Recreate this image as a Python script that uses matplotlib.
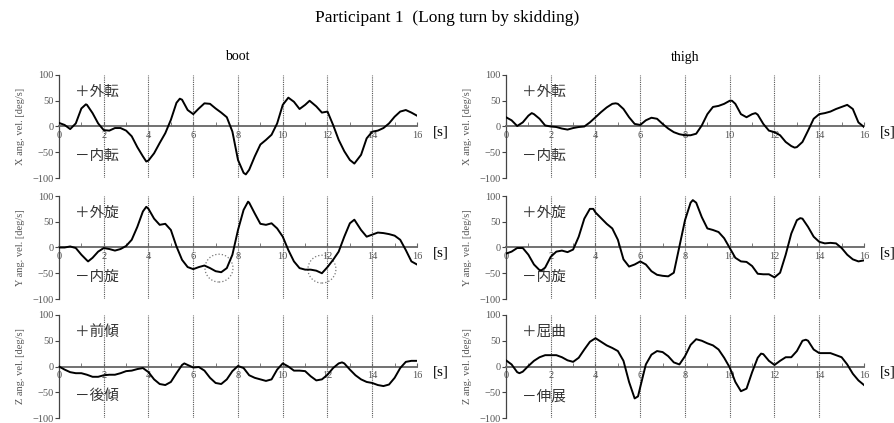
import matplotlib
matplotlib.use("Agg")
import matplotlib.pyplot as plt
from matplotlib.patches import Ellipse

plt.rcParams['font.family'] = ['Liberation Serif', 'Noto Sans CJK JP']

# (time [s], angular velocity [deg/s])
boot_x = [(0,7),(0.25,3),(0.5,-5),(0.75,6),(1.0,35),(1.2,43),(1.25,42),(1.5,26),(1.75,6),
          (2.0,-7),(2.25,-8),(2.5,-3),(2.75,-3),(3.0,-8),(3.25,-19),(3.5,-40),(3.75,-58),
          (3.9,-68),(4.0,-66),(4.25,-52),(4.5,-32),(4.75,-13),(5.0,13),(5.25,46),(5.4,54),
          (5.5,52),(5.75,32),(6.0,24),(6.25,35),(6.5,45),(6.75,44),(7.0,35),(7.25,27),
          (7.5,18),(7.75,-10),(8.0,-65),(8.25,-90),(8.35,-93),(8.5,-84),(8.75,-58),(9.0,-35),
          (9.25,-26),(9.5,-16),(9.75,6),(10.0,42),(10.25,56),(10.5,48),(10.75,34),(11.0,42),
          (11.2,50),(11.5,39),(11.75,27),(12.0,29),(12.25,3),(12.5,-26),(12.75,-48),(13.0,-65),
          (13.2,-72),(13.5,-55),(13.75,-23),(14.0,-10),(14.25,-8),(14.5,-3),(14.75,6),
          (15.0,19),(15.25,29),(15.5,32),(15.75,27),(16.0,21)]

boot_y = [(0,0),(0.25,0),(0.5,2),(0.75,-1),(1.0,-14),(1.25,-25),(1.3,-27),(1.5,-20),(1.75,-8),
          (2.0,-1),(2.25,-3),(2.5,-6),(2.75,-3),(3.0,3),(3.25,15),(3.5,40),(3.75,70),(3.9,79),
          (4.0,75),(4.25,56),(4.5,44),(4.75,46),(5.0,34),(5.25,2),(5.5,-24),(5.75,-38),
          (6.0,-42),(6.25,-38),(6.5,-35),(6.75,-40),(7.0,-46),(7.25,-48),(7.5,-40),(7.75,-14),
          (8.0,34),(8.25,73),(8.45,89),(8.5,87),(8.75,66),(9.0,46),(9.25,44),(9.5,47),
          (9.75,37),(10.0,21),(10.25,-5),(10.5,-27),(10.75,-40),(11.0,-43),(11.25,-43),
          (11.5,-45),(11.75,-50),(12.0,-38),(12.25,-24),(12.5,-8),(12.75,21),(13.0,47),
          (13.2,54),(13.5,34),(13.75,21),(14.0,25),(14.25,29),(14.5,28),(14.75,26),(15.0,23),
          (15.25,15),(15.5,-5),(15.75,-27),(16.0,-33)]

boot_z = [(0,0),(0.25,-6),(0.5,-11),(0.75,-13),(1.0,-13),(1.25,-16),(1.5,-20),(1.75,-20),
          (2.0,-17),(2.25,-16),(2.5,-16),(2.75,-13),(3.0,-9),(3.25,-8),(3.5,-5),(3.75,-3),
          (4.0,-11),(4.25,-25),(4.5,-34),(4.75,-36),(5.0,-30),(5.25,-13),(5.5,3),(5.6,6),
          (5.75,3),(6.0,-2),(6.25,-1),(6.5,-8),(6.75,-22),(7.0,-32),(7.25,-34),(7.5,-25),
          (7.75,-9),(8.0,1),(8.25,-3),(8.5,-17),(8.75,-22),(9.0,-25),(9.25,-28),(9.5,-25),
          (9.75,-6),(10.0,6),(10.25,0),(10.5,-8),(10.75,-8),(11.0,-9),(11.25,-19),(11.5,-27),
          (11.75,-25),(12.0,-16),(12.25,-3),(12.5,6),(12.65,8),(12.75,6),(13.0,-6),
          (13.25,-17),(13.5,-25),(13.75,-30),(14.0,-32),(14.25,-36),(14.5,-38),(14.75,-35),
          (15.0,-22),(15.25,-3),(15.5,9),(15.75,11),(16.0,11)]

thigh_x = [(0,18),(0.25,12),(0.5,1),(0.75,8),(1.0,21),(1.15,26),(1.25,24),(1.5,15),(1.75,2),
           (2.0,0),(2.25,-1),(2.5,-4),(2.75,-6),(3.0,-3),(3.25,-1),(3.5,0),(3.75,8),(4.0,18),
           (4.25,28),(4.5,37),(4.75,44),(4.9,45),(5.0,44),(5.25,34),(5.5,18),(5.75,5),(6.0,3),
           (6.25,12),(6.5,17),(6.75,15),(7.0,5),(7.25,-4),(7.5,-11),(7.75,-15),(8.0,-17),
           (8.25,-17),(8.5,-14),(8.75,2),(9.0,24),(9.25,38),(9.5,40),(9.75,44),(10.0,50),
           (10.1,50),(10.25,44),(10.5,24),(10.75,18),(11.0,24),(11.15,26),(11.25,23),(11.5,5),
           (11.75,-8),(12.0,-11),(12.25,-17),(12.5,-30),(12.75,-38),(12.9,-41),(13.0,-40),
           (13.25,-30),(13.5,-8),(13.75,15),(14.0,24),(14.25,26),(14.5,29),(14.75,34),
           (15.0,38),(15.25,42),(15.5,34),(15.75,8),(16.0,-1)]

thigh_y = [(0,-12),(0.25,-8),(0.5,-1),(0.75,-1),(1.0,-14),(1.25,-33),(1.5,-44),(1.6,-44),
           (1.75,-39),(2.0,-18),(2.25,-8),(2.5,-6),(2.75,-9),(3.0,-4),(3.25,21),(3.5,56),
           (3.75,75),(3.9,75),(4.0,68),(4.25,57),(4.5,46),(4.75,37),(5.0,15),(5.25,-23),
           (5.5,-37),(5.75,-33),(6.0,-27),(6.25,-33),(6.5,-46),(6.75,-53),(7.0,-55),(7.25,-56),
           (7.5,-49),(7.75,2),(8.0,53),(8.25,87),(8.35,92),(8.5,87),(8.75,59),(9.0,37),
           (9.25,34),(9.5,30),(9.75,18),(10.0,-1),(10.25,-20),(10.5,-27),(10.75,-28),
           (11.0,-36),(11.25,-51),(11.5,-52),(11.75,-52),(12.0,-58),(12.25,-49),(12.5,-14),
           (12.75,27),(13.0,53),(13.15,57),(13.25,56),(13.5,40),(13.75,21),(14.0,11),
           (14.25,8),(14.5,9),(14.75,8),(15.0,-1),(15.25,-14),(15.5,-23),(15.75,-27),(16.0,-25)]

thigh_z = [(0,12),(0.25,4),(0.5,-11),(0.6,-13),(0.75,-10),(1.0,1),(1.25,11),(1.5,18),
           (1.75,22),(2.0,22),(2.25,22),(2.5,18),(2.75,12),(3.0,9),(3.25,17),(3.5,33),
           (3.75,48),(4.0,55),(4.25,48),(4.5,41),(4.75,36),(5.0,30),(5.25,11),(5.5,-30),
           (5.75,-62),(5.9,-58),(6.0,-40),(6.25,4),(6.5,23),(6.75,30),(7.0,28),(7.25,20),
           (7.5,8),(7.75,4),(8.0,20),(8.25,42),(8.5,53),(8.75,50),(9.0,45),(9.25,41),(9.5,33),
           (9.75,17),(10.0,-2),(10.25,-30),(10.5,-48),(10.75,-43),(11.0,-11),(11.25,17),
           (11.4,25),(11.5,24),(11.75,11),(12.0,3),(12.25,11),(12.5,18),(12.75,18),(13.0,30),
           (13.25,50),(13.4,52),(13.5,50),(13.75,33),(14.0,26),(14.25,26),(14.5,26),
           (14.75,22),(15.0,18),(15.25,4),(15.5,-14),(15.75,-27),(16.0,-36)]

ylabels = ['X ang. vel. [deg/s]', 'Y ang. vel. [deg/s]', 'Z ang. vel. [deg/s]']
boot_words = [('＋外転', '－内転'), ('＋外旋', '－内旋'), ('＋前傾', '－後傾')]
thigh_words = [('＋外転', '－内転'), ('＋外旋', '－内旋'), ('＋屈曲', '－伸展')]
boot_circles = [(7.15, -40), (11.75, -42)]

W, H = 895, 423
fig = plt.figure(figsize=(W / 100, H / 100), dpi=100)

fig.text(0.5, 1 - 18 / H, 'Participant 1  (Long turn by skidding)', ha='center', va='center', fontsize=12.5)
fig.text(237 / W, 1 - 57 / H, 'boot', ha='center', va='center', fontsize=10)
fig.text(685 / W, 1 - 57 / H, 'thigh', ha='center', va='center', fontsize=10)

col_left = [59, 506]
col_width = 358
row_top = [75, 196, 315]
row_height = 103


def draw_panel(ax, data, ylabel, words):
    t = [p[0] for p in data]
    v = [p[1] for p in data]
    ax.set_xlim(0, 16)
    ax.set_ylim(-100, 100)
    for s in ['top', 'right']:
        ax.spines[s].set_visible(False)
    ax.spines['left'].set_color('#444444')
    ax.spines['left'].set_linewidth(0.9)
    ax.spines['bottom'].set_position(('data', 0))
    ax.spines['bottom'].set_color('#666666')
    ax.spines['bottom'].set_linewidth(1.3)
    ax.set_xticks(range(0, 17, 2))
    ax.set_xticks(range(1, 16, 2), minor=True)
    ax.set_yticks([-100, -50, 0, 50, 100])
    ax.tick_params(axis='x', which='both', direction='in', length=3, colors='#666666',
                   labelsize=7.5, labelcolor='#555555', pad=3)
    ax.tick_params(axis='y', direction='out', length=3, colors='#444444',
                   labelsize=7.5, labelcolor='#555555', pad=1)
    for xt in range(2, 16, 2):
        ax.axvline(xt, color='#555555', lw=0.8, ls=(0, (1, 1)), zorder=1)
    ax.plot(t, v, color='black', lw=1.4, zorder=3, solid_joinstyle='round')
    ax.set_ylabel(ylabel, fontsize=7.5, color='#555555', labelpad=5)
    ax.text(0.72, 67, words[0], fontsize=10.5, va='center', ha='left', color='#333333',
            family=['Noto Sans CJK JP', 'DejaVu Sans'])
    ax.text(0.72, -58, words[1], fontsize=10.5, va='center', ha='left', color='#333333',
            family=['Noto Sans CJK JP', 'DejaVu Sans'])
    ax.text(16.7, -10, '[s]', fontsize=11, va='center', ha='left', clip_on=False)


for c, (series, words_list) in enumerate([([boot_x, boot_y, boot_z], boot_words),
                                          ([thigh_x, thigh_y, thigh_z], thigh_words)]):
    for r in range(3):
        ax = fig.add_axes([col_left[c] / W, 1 - (row_top[r] + row_height) / H,
                           col_width / W, row_height / H])
        draw_panel(ax, series[r], ylabels[r], words_list[r])
        if c == 0 and r == 1:
            for cx, cy in boot_circles:
                ax.add_patch(Ellipse((cx, cy), 1.25, 54, fill=False, ls=':', ec='#777777', lw=0.9))

fig.savefig('out.png', dpi=100)
